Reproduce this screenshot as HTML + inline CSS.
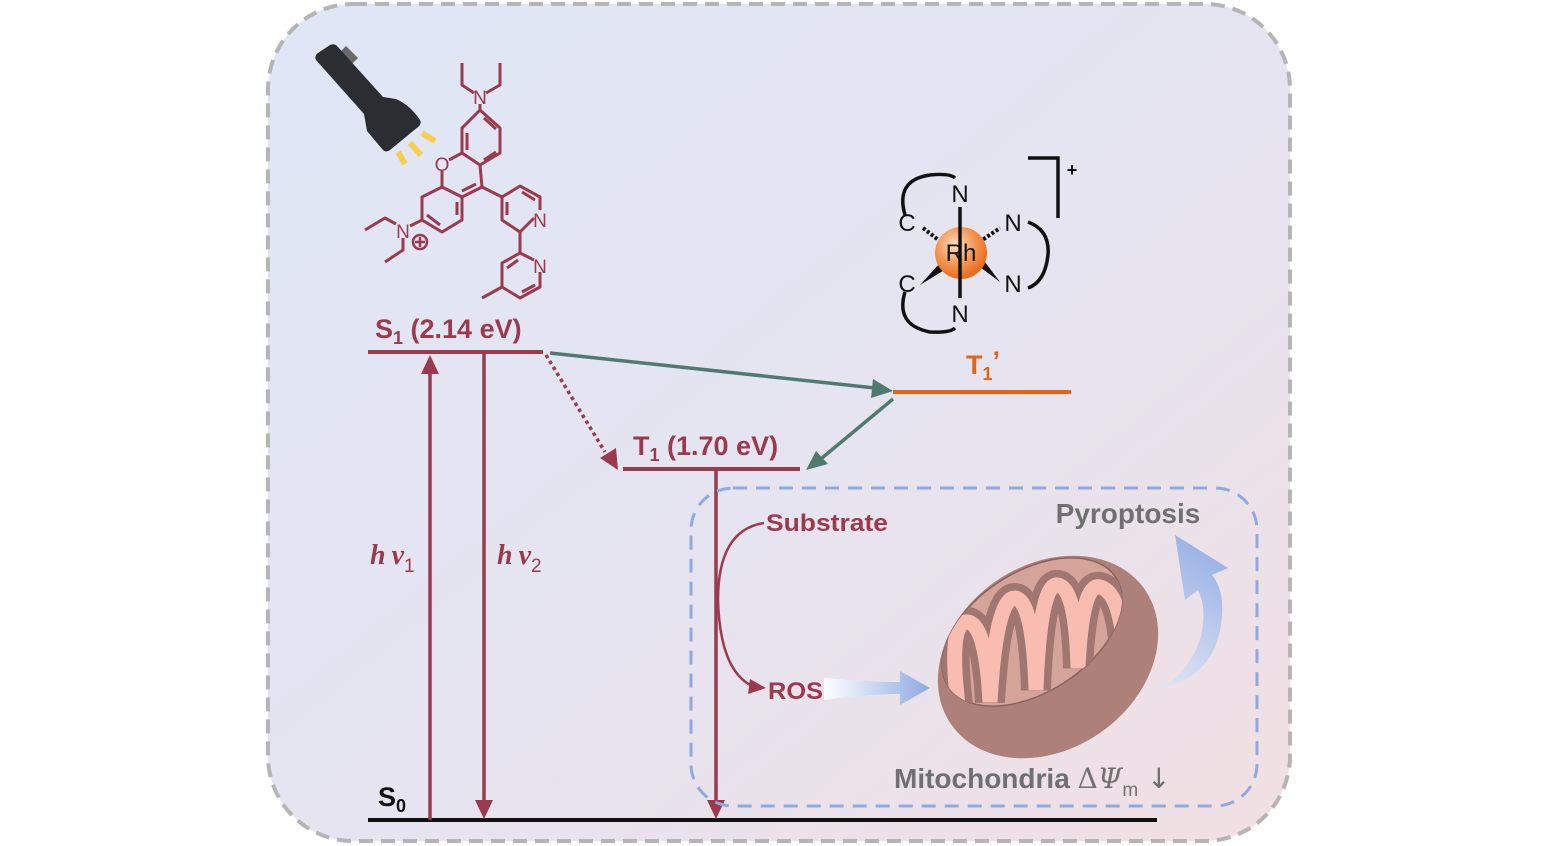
<!DOCTYPE html>
<html><head><meta charset="utf-8"><style>html,body{margin:0;padding:0;background:#fff}svg{display:block}</style></head>
<body>
<svg width="1562" height="846" viewBox="0 0 1562 846" xmlns="http://www.w3.org/2000/svg" font-family="Liberation Sans, sans-serif">
<defs>
<linearGradient id="bg" x1="0" y1="0" x2="1" y2="1">
<stop offset="0" stop-color="#dfe6f6"/><stop offset="0.55" stop-color="#e6e4f0"/><stop offset="1" stop-color="#f1dfe2"/></linearGradient>
<radialGradient id="rh" cx="0.4" cy="0.35" r="0.7"><stop offset="0" stop-color="#fde0c8"/><stop offset="0.5" stop-color="#f39a5a"/><stop offset="1" stop-color="#e8630f"/></radialGradient>
<linearGradient id="ros" x1="0" x2="1"><stop offset="0" stop-color="#ffffff"/><stop offset="1" stop-color="#8eaae0"/></linearGradient>
<linearGradient id="py" x1="0" y1="1" x2="0.3" y2="0"><stop offset="0" stop-color="#e4e8f6"/><stop offset="1" stop-color="#9db4e6"/></linearGradient>
<clipPath id="inner"><ellipse cx="1032" cy="632" rx="100" ry="60" transform="rotate(-33 1032 632)"/></clipPath>
</defs>
<rect x="268" y="4" width="1022" height="837" rx="85" fill="url(#bg)" stroke="#b5b5b5" stroke-width="4" stroke-dasharray="14,8"/>

<!-- flashlight -->
<polygon points="340,52 346,46 358,58 352,64" fill="#6a6a6a"/>
<path d="M316,60 Q314,56 318,53 L330,45 Q334,43 337,46 L383,97 L396,99 Q410,105 420,120 Q422,124 418,127 L390,150 Q386,153 383,150 L367,131 L364,114 Z" fill="#2a2d31"/>
<g stroke="#f8cf4d" stroke-width="6">
<line x1="398" y1="152" x2="405" y2="164"/><line x1="410" y1="143" x2="421" y2="155"/><line x1="422" y1="133" x2="435" y2="141"/>
</g>

<!-- molecule -->
<g stroke="#9b3a4c" stroke-width="3" fill="none" stroke-linejoin="round">
<polygon points="480,110 500,128 500,153 480,165 462,153 462,128"/>
<line x1="467" y1="133" x2="467" y2="150"/><line x1="484" y1="118" x2="496" y2="129"/><line x1="484" y1="160" x2="496" y2="152"/>
<line x1="480" y1="110" x2="480" y2="104"/>
<polyline points="474,93 462,85 462,63"/><polyline points="486,93 500,85 500,63"/>
<polyline points="462,153 449,160"/><polyline points="442,171 442,187"/>
<line x1="480" y1="165" x2="482" y2="187"/>
<polygon points="442,187 462,197 462,220 442,232 422,220 422,197"/>
<line x1="457" y1="202" x2="457" y2="215"/><line x1="427" y1="215" x2="440" y2="225"/>
<line x1="482" y1="187" x2="462" y2="197"/>
<line x1="476" y1="184" x2="462" y2="191"/>
<line x1="422" y1="220" x2="410" y2="226"/>
<polyline points="396,224 385,218 365,230"/><polyline points="403,238 403,250 385,262"/>
<line x1="482" y1="187" x2="502" y2="197"/>
<polyline points="534,218 520,232 502,220 502,197 520,186 540,197 540,210"/>
<line x1="507" y1="202" x2="507" y2="215"/><line x1="522" y1="192" x2="535" y2="200"/>
<line x1="520" y1="232" x2="520" y2="253"/>
<polyline points="534,260 520,253 502,263 502,287 520,298 540,287 540,272"/>
<line x1="507" y1="268" x2="518" y2="260"/><line x1="522" y1="292" x2="535" y2="285"/>
<line x1="502" y1="287" x2="482" y2="298"/>
<circle cx="420" cy="242" r="7" stroke-width="2.5"/>
<line x1="415" y1="242" x2="425" y2="242" stroke-width="2.5"/><line x1="420" y1="237" x2="420" y2="247" stroke-width="2.5"/>
</g>
<g fill="#9b3a4c" font-size="19">
<text x="480" y="104" text-anchor="middle">N</text>
<text x="442" y="171" text-anchor="middle">O</text>
<text x="403" y="238" text-anchor="middle">N</text>
<text x="540" y="227" text-anchor="middle">N</text>
<text x="540" y="273" text-anchor="middle">N</text>
</g>

<!-- Rh complex -->
<g stroke="#111" stroke-width="3.5" fill="none">
<path d="M905,215 Q895,180 930,175 Q950,173 955,178"/>
<path d="M905,292 Q895,325 930,332 Q950,333 955,328"/>
<path d="M1028,222 Q1050,230 1048,255 Q1045,282 1028,288"/>
<polyline points="1028,158 1058,158 1058,218"/>
</g>
<g stroke="#111" stroke-width="4" stroke-dasharray="3,2"><line x1="923" y1="228" x2="945" y2="245"/><line x1="975" y1="245" x2="1000" y2="228"/></g>
<path d="M920,285 L940,263 L946,269 Z" fill="#111"/>
<path d="M1000,282 L976,264 L982,258 Z" fill="#111"/>
<circle cx="961" cy="253" r="26" fill="url(#rh)"/>
<line x1="960" y1="207" x2="960" y2="298" stroke="#111" stroke-width="3.5"/>
<g fill="#111" font-size="24">
<text x="961" y="261" text-anchor="middle">Rh</text>
<text x="960" y="202" text-anchor="middle">N</text>
<text x="960" y="322" text-anchor="middle">N</text>
<text x="907" y="231" text-anchor="middle">C</text>
<text x="907" y="292" text-anchor="middle">C</text>
<text x="1013" y="231" text-anchor="middle">N</text>
<text x="1013" y="292" text-anchor="middle">N</text>
<text x="1072" y="176" text-anchor="middle" font-size="18" font-weight="bold">+</text>
</g>

<!-- energy levels -->
<g fill="#9b3a4c" font-weight="bold">
<text x="375" y="338" font-size="27">S<tspan font-size="18" dy="6">1</tspan><tspan dy="-6"> (2.14 eV)</tspan></text>
<text x="633" y="455" font-size="27">T<tspan font-size="18" dy="6">1</tspan><tspan dy="-6"> (1.70 eV)</tspan></text>
</g>
<text x="966" y="374" font-size="27" font-weight="bold" fill="#e8630f">T<tspan font-size="18" dy="6">1</tspan><tspan dy="-10">’</tspan></text>
<text x="378" y="806" font-size="27" font-weight="bold" fill="#111">S<tspan font-size="18" dy="6">0</tspan></text>
<g stroke="#9b3a4c" stroke-width="4">
<line x1="368" y1="352" x2="543" y2="352"/>
<line x1="623" y1="469" x2="800" y2="469"/>
</g>
<line x1="893" y1="392" x2="1071" y2="392" stroke="#e8630f" stroke-width="4"/>
<line x1="368" y1="820" x2="1157" y2="820" stroke="#111" stroke-width="4"/>

<g stroke="#9b3a4c" stroke-width="3.5" fill="#9b3a4c">
<line x1="430" y1="820" x2="430" y2="372"/><path d="M421,374 L430,355 L439,374 Z" stroke="none"/>
<line x1="484" y1="353" x2="484" y2="802"/><path d="M475,800 L484,819 L493,800 Z" stroke="none"/>
<line x1="716" y1="470" x2="716" y2="802"/><path d="M707,800 L716,819 L725,800 Z" stroke="none"/>
<line x1="546" y1="355" x2="605" y2="452" stroke-dasharray="3.5,3.5"/><path d="M600,458 L618,470 L616,448 Z" stroke="none"/>
</g>
<g stroke="#4f7a70" stroke-width="3.5" fill="#4f7a70">
<line x1="550" y1="353" x2="875" y2="388"/><path d="M873,379 L893,391 L871,398 Z" stroke="none"/>
<line x1="893" y1="399" x2="822" y2="458"/><path d="M816,451 L806,470 L828,464 Z" stroke="none"/>
</g>
<g fill="#9b3a4c" font-size="28" font-style="italic" font-weight="bold" font-family="Liberation Serif, serif">
<text x="370" y="564">h<tspan dx="6">ν</tspan><tspan font-size="19" dy="8" font-family="Liberation Sans" font-style="normal" font-weight="normal">1</tspan></text>
<text x="497" y="564">h<tspan dx="6">ν</tspan><tspan font-size="19" dy="8" font-family="Liberation Sans" font-style="normal" font-weight="normal">2</tspan></text>
</g>

<!-- blue dashed box -->
<rect x="691" y="488" width="566" height="318" rx="42" fill="none" stroke="#8eaae0" stroke-width="3" stroke-dasharray="14,9"/>
<g fill="#9b3a4c" font-weight="bold" font-size="24">
<text x="766" y="531" textLength="122" lengthAdjust="spacingAndGlyphs">Substrate</text>
<text x="768" y="699" textLength="55" lengthAdjust="spacingAndGlyphs">ROS</text>
</g>
<path d="M764,523 Q718,530 718,600 Q720,670 752,686" stroke="#9b3a4c" stroke-width="2.5" fill="none"/>
<path d="M750,679 L766,688 L748,694 Z" fill="#9b3a4c"/>
<path d="M824,678 Q870,682 900,682 L900,671 L930,688 L900,705 L900,694 Q870,694 824,700 Z" fill="url(#ros)"/>

<!-- mitochondrion -->
<ellipse cx="1048" cy="657" rx="118" ry="92" transform="rotate(-35 1048 657)" fill="#ad8079"/>
<ellipse cx="1032" cy="632" rx="100" ry="60" transform="rotate(-33 1032 632)" fill="#d4a49a" stroke="#8a625c" stroke-width="1.5"/>
<g clip-path="url(#inner)" fill="none" stroke-linecap="round">
<path d="M958,705 Q948,620 968,622 Q986,625 990,702 Q996,598 1015,598 Q1033,600 1036,690 Q1040,582 1058,585 Q1076,588 1078,668 Q1082,582 1100,587 Q1120,592 1124,650" stroke="#a07670" stroke-width="30"/>
<path d="M958,705 Q948,620 968,622 Q986,625 990,702 Q996,598 1015,598 Q1033,600 1036,690 Q1040,582 1058,585 Q1076,588 1078,668 Q1082,582 1100,587 Q1120,592 1124,650" stroke="#f9bcb0" stroke-width="15"/>
</g>
<path d="M1152,690 Q1218,680 1222,615 Q1224,590 1212,575 L1228,568 L1175,535 L1185,600 L1198,590 Q1208,610 1200,640 Q1185,680 1152,690 Z" fill="url(#py)"/>
<text x="1128" y="523" text-anchor="middle" font-size="28" font-weight="bold" fill="#707070">Pyroptosis</text>
<text x="894" y="788" font-size="28" font-weight="bold" fill="#707070">Mitochondria <tspan font-family="DejaVu Serif, serif" font-weight="normal">Δ</tspan><tspan font-family="DejaVu Serif, serif" font-style="italic" font-weight="normal">Ψ</tspan><tspan font-size="19" dy="8" font-weight="normal">m</tspan><tspan dy="-8" font-family="DejaVu Sans, sans-serif" font-weight="normal"> ↓</tspan></text>
</svg>
</body></html>
